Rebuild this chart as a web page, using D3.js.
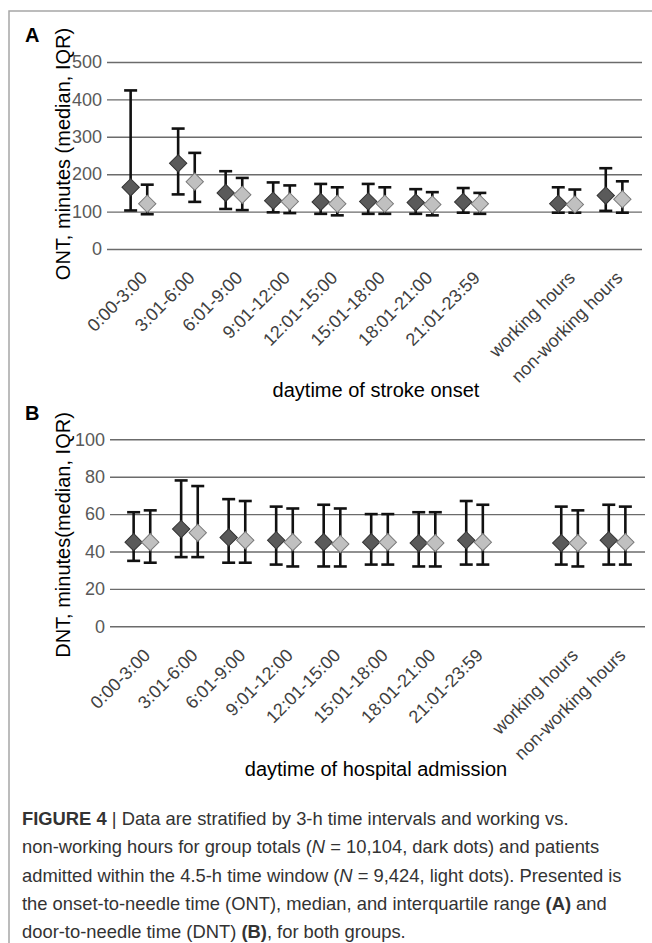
<!DOCTYPE html>
<html>
<head>
<meta charset="utf-8">
<script src="https://cdn.jsdelivr.net/npm/d3@7"></script>
<style>
  body { margin: 0; background: #fff; }
  svg text { font-family: "Liberation Sans", Arial, sans-serif; }
</style>
</head>
<body>
<svg id="fig" width="652" height="943"></svg>
<script>
// categories (x axis, both panels)
var categories = ["0:00-3:00", "3:01-6:00", "6:01-9:00", "9:01-12:00", "12:01-15:00",
                  "15:01-18:00", "18:01-21:00", "21:01-23:59", "working hours", "non-working hours"];

// A: onset-to-needle time, minutes
var ontTotalMed = [165, 229, 150, 129, 126, 127, 124, 126, 121, 143];
var ontTotalQ1  = [103, 146, 107, 98, 94, 94, 94, 97, 97, 102];
var ontTotalQ3  = [424, 322, 208, 178, 174, 174, 160, 163, 165, 216];
var ontWinMed   = [121, 180, 145, 127, 121, 121, 119, 121, 119, 133];
var ontWinQ1    = [93, 126, 104, 96, 90, 94, 90, 94, 97, 97];
var ontWinQ3    = [172, 257, 190, 170, 165, 165, 152, 150, 159, 181];
var ontTicks    = [0, 100, 200, 300, 400, 500];

// B: door-to-needle time, minutes
var dntTotalMed = [45, 52, 47.5, 46, 45, 45, 44.5, 46, 44.5, 46];
var dntTotalQ1  = [35, 37, 34, 33, 32, 33, 32, 33, 33, 33];
var dntTotalQ3  = [61, 78, 68, 64, 65, 60, 61, 67, 64, 65];
var dntWinMed   = [45, 50, 46, 45, 44, 45, 44.5, 45, 44.5, 45];
var dntWinQ1    = [34, 37, 34, 32, 32, 33, 32, 33, 32, 33];
var dntWinQ3    = [62, 75, 67, 63, 63, 60, 61, 65, 62, 64];
var dntTicks    = [0, 20, 40, 60, 80, 100];

var svg = d3.select("#fig");

// figure frame (top + left rule)
svg.append("path")
	.attr("d", "M9,943V11H652")
	.attr("fill", "none")
	.attr("stroke", "#a6a6a6")
	.attr("stroke-width", 1.5);

// slot domain: time blocks, an empty slot, then working / non-working
var slotDomain = categories.slice(0, 8).concat([" "]).concat(categories.slice(8));

function drawPanel(opt) {
	var g = svg.append("g");

	var x = d3.scalePoint().domain(slotDomain).range([opt.x0 + 2, opt.x1 + 2]).padding(0.63);
	var y = d3.scaleLinear().domain([0, opt.yMax]).range([opt.yBottom, opt.yTop]);

	// grid + y tick labels
	var yAxis = d3.axisLeft(y).tickValues(opt.ticks).tickSize(-(opt.x1 - opt.x0)).tickPadding(5);
	var ya = g.append("g")
		.attr("transform", "translate(" + opt.x0 + ",0)")
		.call(yAxis);
	ya.select(".domain").remove();
	ya.selectAll(".tick line").attr("stroke", "#6b6b6b").attr("stroke-width", 1.4);
	ya.selectAll(".tick text")
		.attr("fill", "#595959")
		.style("font-size", "18px")
		.style("font-family", "Liberation Sans, Arial, sans-serif");

	// x tick labels, rotated
	var xa = g.append("g")
		.attr("transform", "translate(0," + opt.yBottom + ")")
		.call(d3.axisBottom(x).tickSize(0));
	xa.select(".domain").remove();
	xa.selectAll(".tick text")
		.attr("fill", "#404040")
		.style("font-size", "18px")
		.style("font-family", "Liberation Sans, Arial, sans-serif")
		.attr("text-anchor", "end")
		.attr("x", 0).attr("y", 0).attr("dy", 0)
		.attr("transform", "translate(9,30) rotate(-45)");

	// series: totals (dark) then 4.5-h window (light)
	var series = [
		{ med: opt.darkMed, q1: opt.darkQ1, q3: opt.darkQ3, dx: -8.3, fill: "#5a5a5a", stroke: "#333" },
		{ med: opt.lightMed, q1: opt.lightQ1, q3: opt.lightQ3, dx: 8.3, fill: "#c0c0c0", stroke: "#7a7a7a" }
	];
	var diamond = d3.symbol().type(d3.symbolSquare).size(150);

	series.forEach(function (s) {
		var pts = categories.map(function (c, i) {
			return { cx: x(c) + s.dx, med: s.med[i], q1: s.q1[i], q3: s.q3[i] };
		});
		var sg = g.append("g");
		var eb = sg.selectAll("g.eb").data(pts).enter().append("g").attr("class", "eb")
			.attr("stroke", "#111").attr("stroke-width", 2.6);
		eb.append("line")
			.attr("x1", function (d) { return d.cx; }).attr("x2", function (d) { return d.cx; })
			.attr("y1", function (d) { return y(d.q1); }).attr("y2", function (d) { return y(d.q3); });
		eb.append("line")
			.attr("x1", function (d) { return d.cx - 6.5; }).attr("x2", function (d) { return d.cx + 6.5; })
			.attr("y1", function (d) { return y(d.q1); }).attr("y2", function (d) { return y(d.q1); });
		eb.append("line")
			.attr("x1", function (d) { return d.cx - 6.5; }).attr("x2", function (d) { return d.cx + 6.5; })
			.attr("y1", function (d) { return y(d.q3); }).attr("y2", function (d) { return y(d.q3); });
		sg.selectAll("path.mk").data(pts).enter().append("path").attr("class", "mk")
			.attr("d", diamond)
			.attr("transform", function (d) { return "translate(" + d.cx + "," + y(d.med) + ") rotate(45)"; })
			.attr("fill", s.fill)
			.attr("stroke", s.stroke)
			.attr("stroke-width", 1);
	});

	// y title
	g.append("text")
		.attr("transform", "translate(70," + opt.titleY + ") rotate(-90)")
		.attr("text-anchor", "middle")
		.style("font-size", "20px")
		.attr("fill", "#000")
		.text(opt.yTitle);

	// x title
	g.append("text")
		.attr("x", 376).attr("y", opt.xTitleY)
		.attr("text-anchor", "middle")
		.style("font-size", "20px")
		.attr("fill", "#000")
		.text(opt.xTitle);

	// panel letter
	g.append("text")
		.attr("x", 25).attr("y", opt.letterY)
		.style("font-size", "20px")
		.style("font-weight", "bold")
		.text(opt.letter);
}

drawPanel({
	letter: "A", letterY: 42,
	x0: 107, x1: 642, yTop: 62, yBottom: 249, yMax: 500, ticks: ontTicks,
	darkMed: ontTotalMed, darkQ1: ontTotalQ1, darkQ3: ontTotalQ3,
	lightMed: ontWinMed, lightQ1: ontWinQ1, lightQ3: ontWinQ3,
	yTitle: "ONT, minutes (median, IQR)", titleY: 154,
	xTitle: "daytime of stroke onset", xTitleY: 397
});

drawPanel({
	letter: "B", letterY: 420,
	x0: 110, x1: 645, yTop: 439.3, yBottom: 626.3, yMax: 100, ticks: dntTicks,
	darkMed: dntTotalMed, darkQ1: dntTotalQ1, darkQ3: dntTotalQ3,
	lightMed: dntWinMed, lightQ1: dntWinQ1, lightQ3: dntWinQ3,
	yTitle: "DNT, minutes(median, IQR)", titleY: 535,
	xTitle: "daytime of hospital admission", xTitleY: 776
});

// caption
var captionLines = [
	[["FIGURE 4", "b"], [" | Data are stratified by 3-h time intervals and working vs.", ""]],
	[["non-working hours for group totals (", ""], ["N", "i"], [" = 10,104, dark dots) and patients", ""]],
	[["admitted within the 4.5-h time window (", ""], ["N", "i"], [" = 9,424, light dots). Presented is", ""]],
	[["the onset-to-needle time (ONT), median, and interquartile range ", ""], ["(A)", "b"], [" and", ""]],
	[["door-to-needle time (DNT) ", ""], ["(B)", "b"], [", for both groups.", ""]]
];

var cap = svg.append("g")
	.style("font-size", "19px")
	.attr("fill", "#333");

var capLines = cap.selectAll("text").data(captionLines).enter().append("text")
	.attr("x", 22)
	.attr("y", function (d, i) { return 825 + i * 28.3; })
	.style("font-family", "Liberation Sans Narrow, Arial Narrow, Liberation Sans, sans-serif");

capLines.selectAll("tspan").data(function (d) { return d; }).enter().append("tspan")
	.style("font-weight", function (d) { return d[1] === "b" ? "bold" : null; })
	.style("font-style", function (d) { return d[1] === "i" ? "italic" : null; })
	.text(function (d) { return d[0]; });

// fit caption to the measured text block width (line 3 is ~600px wide)
var w3 = capLines.nodes()[2].getComputedTextLength();
cap.style("font-size", (19 * 600 / w3).toFixed(2) + "px");
</script>
</body>
</html>
